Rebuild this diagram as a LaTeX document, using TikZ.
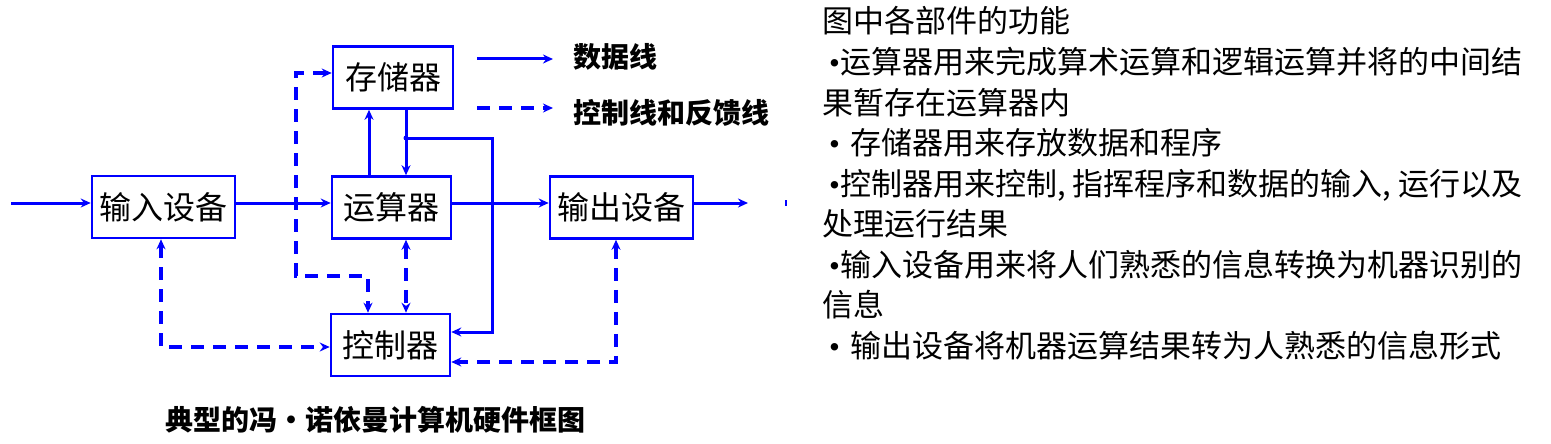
\documentclass[tikz,border=0pt]{standalone}
\usepackage{fontspec}
\newfontfamily\cjk{Noto Sans CJK SC}
\newfontfamily\lat{Liberation Serif}
\newcommand{\blt}{{\lat •}}
\usetikzlibrary{arrows.meta}
\begin{document}
\begin{tikzpicture}[x=1pt,y=-1pt,
  box/.style={draw=blue, line width=2.6pt, inner sep=0pt, minimum height=62pt,
    font=\cjk\fontsize{32}{32}\selectfont},
  tipR/.style={-{Stealth[length=10pt,width=9pt]}},
  tipB/.style={{Stealth[length=10pt,width=9pt]}-{Stealth[length=10pt,width=9pt]}},
  data/.style={blue, line width=3pt, tipR},
  ctrl/.style={blue, line width=3.2pt, dash pattern=on 13pt off 9pt},
  legend/.style={anchor=west, inner sep=0pt, font=\cjk\bfseries\fontsize{28}{28}\selectfont},
  desc/.style={anchor=base west, inner sep=0pt, font=\cjk\fontsize{31}{31}\selectfont}]
\useasboundingbox (0,0) rectangle (1551,444);

% boxes
\node[box, minimum width=143pt] (in)  at (163.5,207)   {输入设备};
\node[box, minimum width=120pt] (mem) at (393,77.5)    {存储器};
\node[box, minimum width=119pt] (alu) at (391.5,207.5) {运算器};
\node[box, minimum width=143pt] (out) at (621.5,207.5) {输出设备};
\node[box, minimum width=119pt] (ctl) at (390.5,345)   {控制器};

% helper coordinates
\coordinate (src) at (11,203);
\coordinate (snk) at (748,203);
\coordinate (xa) at (369,0);
\coordinate (xb) at (406,0);
\coordinate (xc) at (368,0);
\coordinate (j) at (406,138);
\coordinate (bus) at (492,138);
\coordinate (cy1) at (0,332);
\coordinate (lx) at (296,73);
\coordinate (ly) at (296,276);
\coordinate (ix) at (161,347);
\coordinate (ox) at (616,362);

% data lines
\draw[data] (src) -- (in.west |- src);
\draw[data] (in.east |- src) -- (alu.west |- src);
\draw[data] (alu.east |- src) -- (out.west |- src);
\draw[data] (out.east |- snk) -- (snk);
\draw[blue, line width=1.5pt] (786,200) -- (786,206);
\draw[data] (alu.north -| xa) -- (mem.south -| xa);
\draw[data] (mem.south -| xb) -- (alu.north -| xb);
\draw[data] (j) -- (bus) |- (ctl.east |- cy1);
\fill[blue] (j) circle (2.5pt);

% control / feedback lines
\draw[ctrl, tipB] (mem.west |- lx) -- (lx) -- (ly) -| (ctl.north -| xc);
\draw[ctrl, tipB] (alu.south -| xb) -- (ctl.north -| xb);
\draw[ctrl, tipB] (in.south -| ix) |- (ctl.west |- ix);
\draw[ctrl, tipB] (out.south -| ox) |- (ctl.east |- ox);

% legend
\coordinate (l1a) at (477,59);
\coordinate (l1b) at (553,59);
\draw[data] (l1a) -- (l1b);
\node[legend] (t1) at (573,57) {数据线};
\coordinate (l2a) at (477,108);
\coordinate (l2b) at (553,108);
\draw[ctrl, tipR] (l2a) -- (l2b);
\node[legend] (t2) at (573,113) {控制线和反馈线};

% caption
\node[inner sep=0pt, font=\cjk\bfseries\fontsize{28}{28}\selectfont] (cap) at (375,420) {典型的冯・诺依曼计算机硬件框图};

% description
\node[desc] (d1) at (822,33)    {图中各部件的功能};
\node[desc] (d2) at (829,73.5)  {\blt 运算器用来完成算术运算和逻辑运算并将的中间结};
\node[desc] (d3) at (822,114)   {果暂存在运算器内};
\node[desc] (d4) at (829,154.5) {\blt\hspace{10pt}存储器用来存放数据和程序};
\node[desc] (d5) at (829,195)   {\blt 控制器用来控制, 指挥程序和数据的输入, 运行以及};
\node[desc] (d6) at (822,235.5) {处理运行结果};
\node[desc] (d7) at (829,276)   {\blt 输入设备用来将人们熟悉的信息转换为机器识别的};
\node[desc] (d8) at (822,316.5) {信息};
\node[desc] (d9) at (829,357)   {\blt\hspace{10pt}输出设备将机器运算结果转为人熟悉的信息形式};
\end{tikzpicture}
\end{document}
